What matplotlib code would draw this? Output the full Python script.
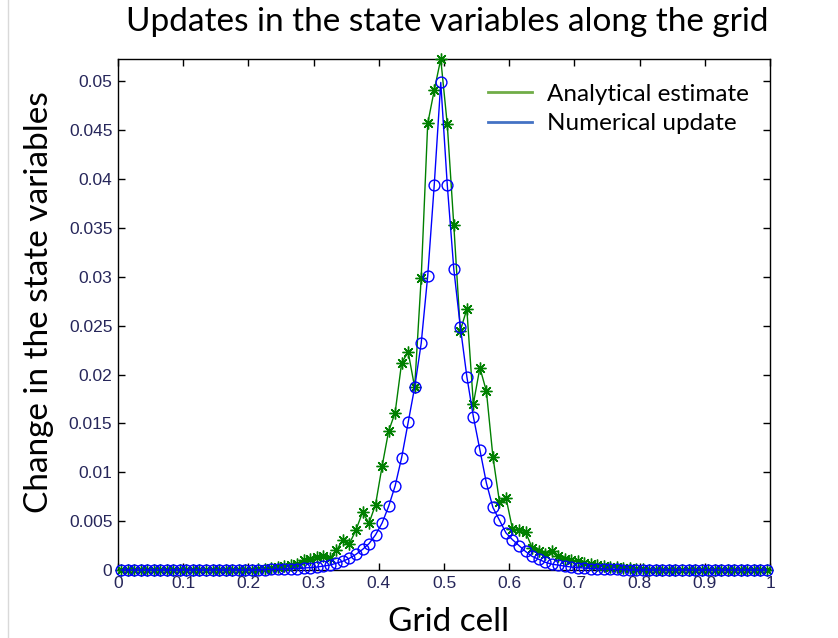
import numpy as np
import matplotlib
matplotlib.use("Agg")
import matplotlib.pyplot as plt
from matplotlib.lines import Line2D

# ---- data ----
grid_cells = np.linspace(0.005, 0.995, 100)

analytical = [
    0, 0, 0, 0, 0, 0, 0, 0, 0, 0,
    0, 0, 0, 0, 0, 0, 0, 0, 0, 0,
    0, 0.0001, 0.0001, 0.0002, 0.0003, 0.0004, 0.0005, 0.0006, 0.0010, 0.0011,
    0.0013, 0.0014, 0.0012, 0.0020, 0.0031, 0.0027, 0.0041, 0.0059, 0.0048, 0.0067,
    0.0106, 0.0142, 0.0161, 0.0212, 0.0223, 0.0187, 0.0299, 0.0457, 0.0491, 0.0523,
    0.0456, 0.0353, 0.0245, 0.0267, 0.0170, 0.0207, 0.0183, 0.0116, 0.0070, 0.0074,
    0.0042, 0.0041, 0.0039, 0.0023, 0.0019, 0.0016, 0.0019, 0.0014, 0.0011, 0.0010,
    0.0009, 0.0007, 0.0006, 0.0005, 0.0004, 0.0003, 0.0003, 0.0002, 0.0002, 0.0001,
    0.0001, 0, 0, 0, 0, 0, 0, 0, 0, 0,
    0, 0, 0, 0, 0, 0, 0, 0, 0, 0,
]

numerical = [
    0, 0, 0, 0, 0, 0, 0, 0, 0, 0,
    0, 0, 0, 0, 0, 0, 0, 0, 0, 0,
    0, 0, 0.00005, 0.00006, 0.00008, 0.0001, 0.00012, 0.00015, 0.0002, 0.00025,
    0.0003, 0.0004, 0.0005, 0.0007, 0.0009, 0.0012, 0.0016, 0.0021, 0.0027, 0.0036,
    0.0048, 0.0065, 0.0086, 0.0115, 0.0151, 0.0187, 0.0232, 0.0301, 0.0394, 0.0499,
    0.0394, 0.0308, 0.0249, 0.0198, 0.0157, 0.0123, 0.0089, 0.0064, 0.0051, 0.0038,
    0.0031, 0.0025, 0.0019, 0.0014, 0.0011, 0.0008, 0.0006, 0.0005, 0.0004, 0.0003,
    0.00025, 0.0002, 0.00015, 0.00012, 0.0001, 0.00008, 0.00006, 0.00005, 0, 0,
    0, 0, 0, 0, 0, 0, 0, 0, 0, 0,
    0, 0, 0, 0, 0, 0, 0, 0, 0, 0,
]

x_ticks = [0, 0.1, 0.2, 0.3, 0.4, 0.5, 0.6, 0.7, 0.8, 0.9, 1.0]
x_tick_labels = ["0", "0.1", "0.2", "0.3", "0.4", "0.5", "0.6", "0.7", "0.8", "0.9", "1"]
y_ticks = [0, 0.005, 0.01, 0.015, 0.02, 0.025, 0.03, 0.035, 0.04, 0.045, 0.05]
y_tick_labels = ["0", "0.005", "0.01", "0.015", "0.02", "0.025", "0.03", "0.035", "0.04", "0.045", "0.05"]

title_text = "Updates in the state variables along the grid"
x_label = "Grid cell"
y_label = "Change in the state variables"
legend_labels = ["Analytical estimate", "Numerical update"]

# ---- figure ----
fig = plt.figure(figsize=(8.38, 6.38), dpi=100)
ax = fig.add_axes([0.1408, 0.1066, 0.7781, 0.8009])

tick_color = "#26265a"
label_font = "Lato"

ax.plot(grid_cells, analytical, color="#008000", lw=1.0,
        marker=(8, 2, 0), markersize=8.5, markeredgewidth=1.0,
        markeredgecolor="#008000", clip_on=False, zorder=3)
ax.plot(grid_cells, numerical, color="#0000ff", lw=1.0,
        marker="o", markersize=7.8, markerfacecolor="none",
        markeredgewidth=1.0, markeredgecolor="#0000ff", clip_on=False, zorder=4)

ax.set_xlim(0, 1)
ax.set_ylim(0, max(analytical))
ax.set_xticks(x_ticks)
ax.set_xticklabels(x_tick_labels)
ax.set_yticks(y_ticks)
ax.set_yticklabels(y_tick_labels)
ax.tick_params(direction="in", top=True, right=True, length=5, width=1,
               labelsize=12.5, labelcolor=tick_color, color="black", pad=4)
for lab in ax.get_xticklabels() + ax.get_yticklabels():
    lab.set_family("Liberation Sans")
for s in ax.spines.values():
    s.set_linewidth(1.0)
    s.set_color("black")

fig.text(0.534, 0.966, title_text, ha="center", va="center",
         fontsize=24, family=label_font, color="black")
fig.text(0.535, 0.025, x_label, ha="center", va="center",
         fontsize=24, family=label_font, color="black")
fig.text(0.046, 0.527, y_label, ha="center", va="center", rotation=90,
         fontsize=24, family=label_font, color="black")

handles = [Line2D([], [], color="#70ad47", lw=2),
           Line2D([], [], color="#4472c4", lw=2)]
ax.legend(handles, legend_labels, loc="upper right", bbox_to_anchor=(0.99, 0.98),
          frameon=False, prop={"family": label_font, "size": 17.5},
          handlelength=1.85, handletextpad=0.6, labelspacing=0.35, borderaxespad=0.2)

# thin slide border on the left
fig.add_artist(Line2D([8 / 838, 8 / 838], [0, 1], transform=fig.transFigure,
                      color="#d9d9d9", lw=1))

fig.savefig("out.png", dpi=100)
